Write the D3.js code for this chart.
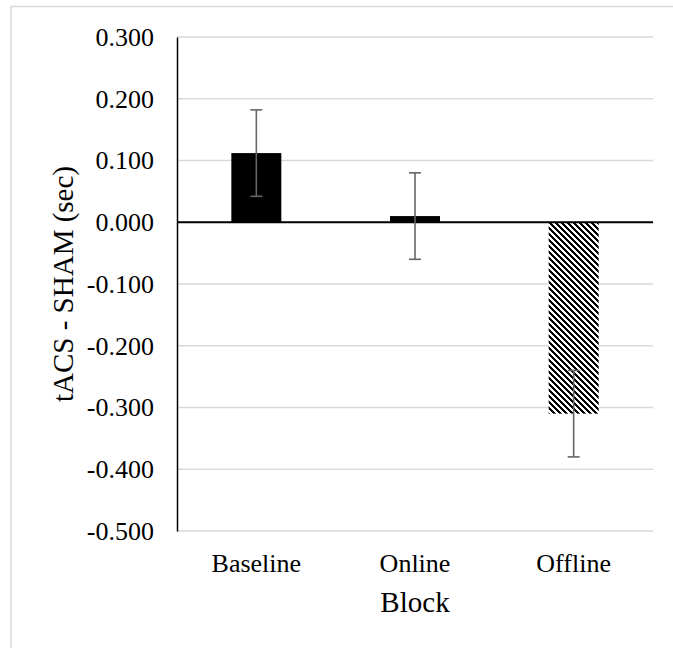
<!DOCTYPE html>
<html>
<head>
<meta charset="utf-8">
<script src="https://cdn.jsdelivr.net/npm/d3@7"></script>
<style>
    body { margin: 0; background: #fff; }
    svg { display: block; }
    text { font-family: "Liberation Serif", "Times New Roman", serif; fill: #000; }
</style>
</head>
<body>
<div id="chart"></div>
<script>
// data
const categories = ["Baseline", "Online", "Offline"];
const means = [0.112, 0.010, -0.310];
const errors = [0.070, 0.070, 0.070];
const fills = ["solid", "solid", "stripes"];
const yTicks = [-0.5, -0.4, -0.3, -0.2, -0.1, 0.0, 0.1, 0.2, 0.3];
const yTitle = "tACS - SHAM (sec)";
const xTitle = "Block";

const W = 673, H = 648;
const margin = {top: 37, right: 20, bottom: 117, left: 177};
const width = W - margin.left - margin.right;
const height = H - margin.top - margin.bottom;

const svg = d3.select("#chart")
    .append("svg")
    .attr("width", W)
    .attr("height", H);

// outer chart frame
svg.append("rect")
    .attr("x", 11)
    .attr("y", 6.5)
    .attr("width", W + 20)
    .attr("height", H + 20)
    .attr("fill", "none")
    .attr("stroke", "#d9d9d9")
    .attr("stroke-width", 1.5);

// diagonal stripe pattern for the offline bar
const period = 6;
const pat = svg.append("defs").append("pattern")
    .attr("id", "stripes")
    .attr("patternUnits", "userSpaceOnUse")
    .attr("width", period)
    .attr("height", period);
pat.append("rect").attr("width", period).attr("height", period).attr("fill", "#fff");
d3.range(period).forEach(row => {
    d3.range(3).forEach(k => {
        pat.append("rect")
            .attr("x", (row + k) % period)
            .attr("y", row)
            .attr("width", 1)
            .attr("height", 1)
            .attr("fill", "#000")
            .attr("shape-rendering", "crispEdges");
    });
});

const g = svg.append("g")
    .attr("transform", `translate(${margin.left},${margin.top})`);

const x = d3.scaleBand()
    .domain(categories)
    .range([0, width])
    .paddingInner(0.685)
    .paddingOuter(0.3425);

const y = d3.scaleLinear()
    .domain([-0.5, 0.3])
    .range([height, 0]);

const fmt = v => d3.format(".3f")(v).replace("\u2212", "-");

// gridlines
g.selectAll(".grid")
    .data(yTicks)
    .join("line")
    .attr("class", "grid")
    .attr("x1", 0)
    .attr("x2", width)
    .attr("y1", d => y(d))
    .attr("y2", d => y(d))
    .attr("stroke", "#d9d9d9")
    .attr("stroke-width", 1.5);

// y axis
const yAxis = g.append("g")
    .call(d3.axisLeft(y).tickValues(yTicks).tickFormat(fmt).tickSize(0).tickPadding(23));
yAxis.select(".domain")
    .attr("stroke", "#000")
    .attr("stroke-width", 1.5);
yAxis.selectAll("text")
    .style("font-family", "'Liberation Serif', 'Times New Roman', serif")
    .style("font-size", "26px")
    .attr("fill", "#000");

// bars
g.selectAll(".bar")
    .data(categories)
    .join("rect")
    .attr("class", "bar")
    .attr("x", d => x(d))
    .attr("width", x.bandwidth())
    .attr("y", (d, i) => y(Math.max(0, means[i])))
    .attr("height", (d, i) => Math.abs(y(means[i]) - y(0)))
    .attr("fill", (d, i) => fills[i] === "stripes" ? "url(#stripes)" : "#000");

// zero line
g.append("line")
    .attr("x1", 0)
    .attr("x2", width)
    .attr("y1", y(0))
    .attr("y2", y(0))
    .attr("stroke", "#000")
    .attr("stroke-width", 2);

// error bars
const capW = 6;
const eb = g.selectAll(".err")
    .data(categories)
    .join("g")
    .attr("class", "err")
    .attr("stroke", "#666")
    .attr("stroke-width", 1.6);
eb.append("line")
    .attr("x1", d => x(d) + x.bandwidth() / 2)
    .attr("x2", d => x(d) + x.bandwidth() / 2)
    .attr("y1", (d, i) => y(means[i] + errors[i]))
    .attr("y2", (d, i) => y(means[i] - errors[i]));
[1, -1].forEach(s => {
    eb.append("line")
        .attr("x1", d => x(d) + x.bandwidth() / 2 - capW)
        .attr("x2", d => x(d) + x.bandwidth() / 2 + capW)
        .attr("y1", (d, i) => y(means[i] + s * errors[i]))
        .attr("y2", (d, i) => y(means[i] + s * errors[i]));
});

// category labels
g.selectAll(".cat")
    .data(categories)
    .join("text")
    .attr("class", "cat")
    .attr("x", d => x(d) + x.bandwidth() / 2)
    .attr("y", height + 41)
    .attr("text-anchor", "middle")
    .style("font-size", "26px")
    .text(d => d);

// axis titles
g.append("text")
    .attr("x", width / 2)
    .attr("y", height + 81)
    .attr("text-anchor", "middle")
    .style("font-size", "29px")
    .text(xTitle);

g.append("text")
    .attr("transform", `translate(${73 - margin.left},${height / 2}) rotate(-90)`)
    .attr("text-anchor", "middle")
    .style("font-size", "29px")
    .text(yTitle);
</script>
</body>
</html>
